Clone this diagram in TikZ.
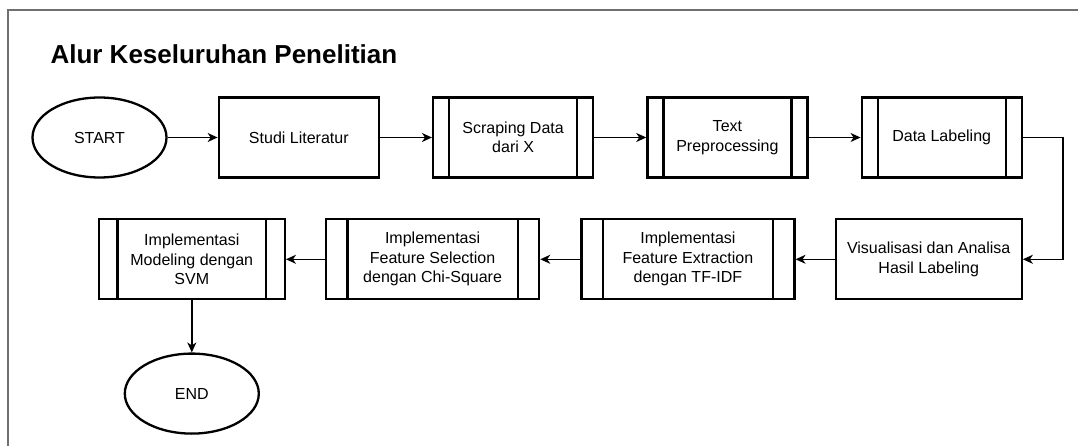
\documentclass[tikz,border=0pt]{standalone}
\usepackage{fontspec}
\setmainfont{Liberation Sans}
\usetikzlibrary{shapes,arrows.meta,positioning,calc}
\definecolor{FrameGray}{RGB}{112, 112, 112}

\begin{document}
\begin{tikzpicture}[
    x=1pt, y=-1pt,
    node distance=52pt,
    box/.style={draw, rectangle, fill=white, line width=2.3pt, minimum width=160pt, minimum height=80pt, align=center, inner sep=0pt, font=\fontsize{16}{19.5}\selectfont},
    procbox/.style={box, path picture={
        \draw[line width=2.3pt] ($(path picture bounding box.north west)!0.1!(path picture bounding box.north east)$) -- ($(path picture bounding box.south west)!0.1!(path picture bounding box.south east)$);
        \draw[line width=2.3pt] ($(path picture bounding box.north west)!0.9!(path picture bounding box.north east)$) -- ($(path picture bounding box.south west)!0.9!(path picture bounding box.south east)$);
      }},
    terminal/.style={draw, ellipse, fill=white, line width=2.3pt, minimum width=134pt, minimum height=80pt, font=\fontsize{16}{19.5}\selectfont},
    arrow/.style={-{Stealth[length=10pt, width=9pt, inset=3pt]}, line width=1.4pt}
  ]
    \useasboundingbox (0,0) rectangle (1078,446);
    \draw[FrameGray, line width=2.2pt] (8,446) -- (8,10) -- (1078,10);

    \node[anchor=base west, font=\bfseries\fontsize{26}{30}\selectfont] (title) at (47,63.5) {Alur Keseluruhan Penelitian};

    \node[terminal] (start) at (99.5,137.5) {START};
    \node[box, right=50pt of start] (studi) {Studi Literatur};
    \node[procbox, right=of studi] (scraping) {Scraping Data\\dari X};
    \node[procbox, right=of scraping] (preproc) {Text\\Preprocessing};
    \node[procbox, right=of preproc] (labeling) {Data Labeling};

    \node[box, minimum width=186pt, below left=39.5pt and 0pt of labeling.south east] (visual) {Visualisasi dan Analisa\\Hasil Labeling};
    \node[procbox, minimum width=213pt, left=39pt of visual] (extraction) {Implementasi\\Feature Extraction\\dengan TF-IDF};
    \node[procbox, minimum width=213pt, left=40pt of extraction] (selection) {Implementasi\\Feature Selection\\dengan Chi-Square};
    \node[procbox, minimum width=186pt, left=39pt of selection] (modeling) {Implementasi\\Modeling dengan\\SVM};
    \node[terminal, below=52pt of modeling] (finish) {END};

    \draw[arrow] (start) -- (studi);
    \draw[arrow] (studi) -- (scraping);
    \draw[arrow] (scraping) -- (preproc);
    \draw[arrow] (preproc) -- (labeling);
    \draw[arrow] (labeling.east) -- ++(40,0) |- (visual.east);
    \draw[arrow] (visual) -- (extraction);
    \draw[arrow] (extraction) -- (selection);
    \draw[arrow] (selection) -- (modeling);
    \draw[arrow] (modeling) -- (finish);
\end{tikzpicture}
\end{document}
